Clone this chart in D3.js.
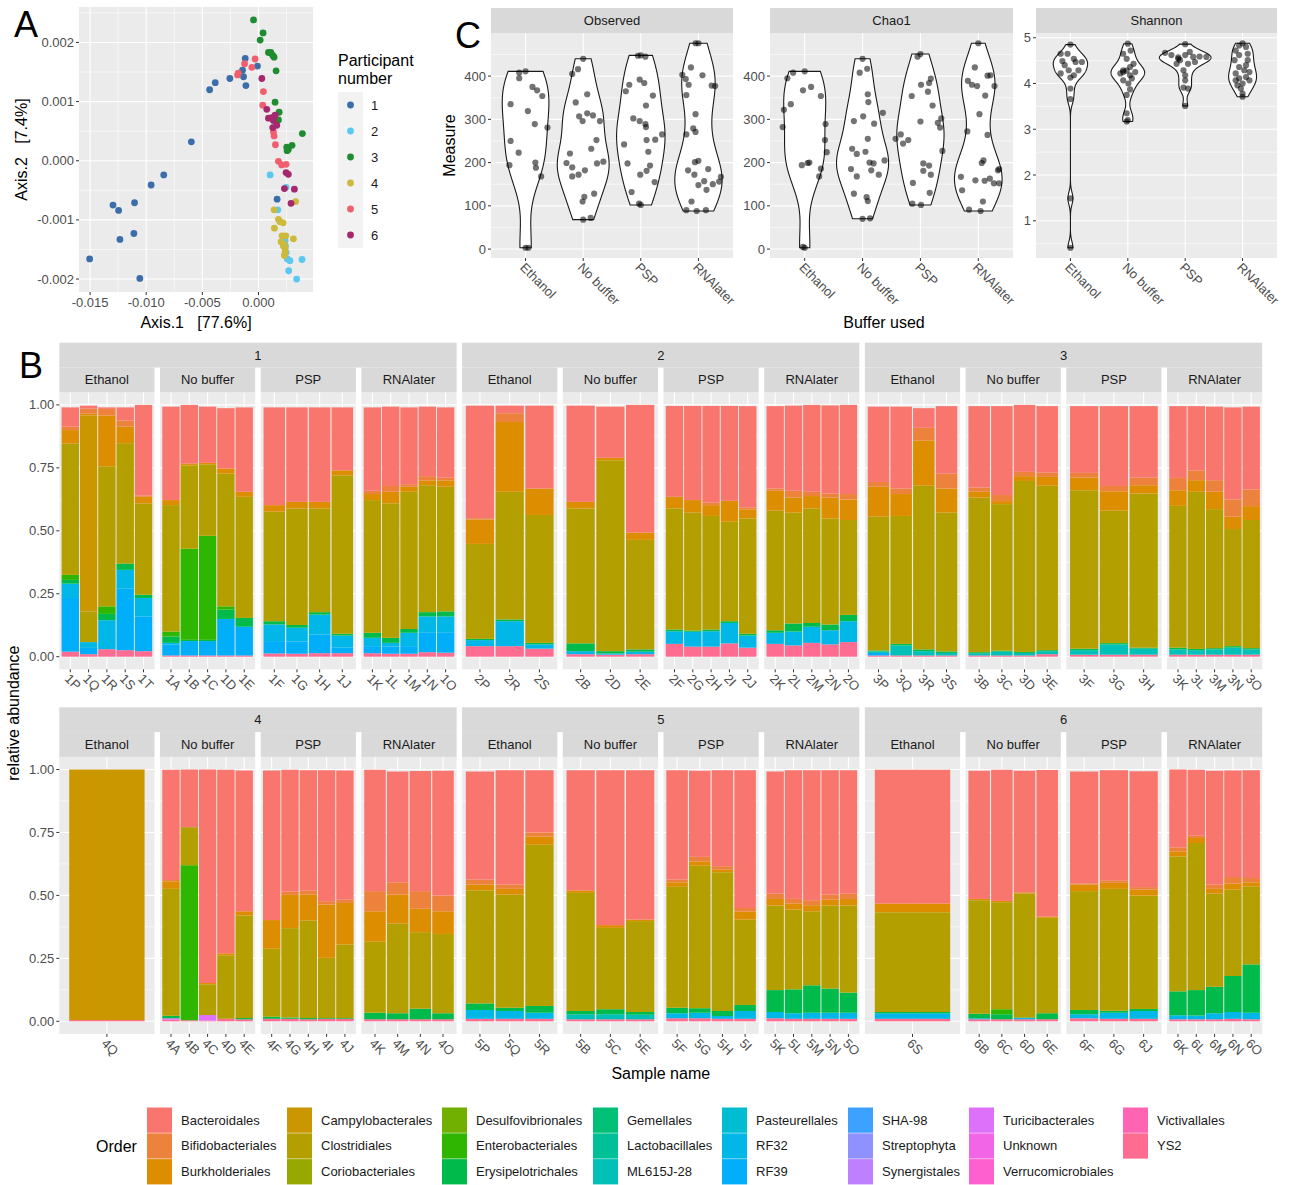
<!DOCTYPE html>
<html>
<head>
<meta charset="utf-8">
<script src="https://cdn.jsdelivr.net/npm/d3@7"></script>
<style>
  body { margin: 0; background: #fff; }
  text { font-family: "Liberation Sans", Arial, Helvetica, sans-serif; }
</style>
</head>
<body>
<div id="chart"></div>
<script>
// ---------- data: panel A (PCoA, [Axis.1, Axis.2]) ----------
const participantColors = ["#3B6EA8", "#5AC8F0", "#1F8C32", "#CDB93C", "#F05F6E", "#A5286E"]
const pcoaP1 = [[-0.01504,-0.00166],[-0.01057,-0.00199],[-0.01234,-0.00133],[-0.0111,-0.00123],[-0.01296,-0.00075],[-0.01246,-0.00084],[-0.01104,-0.00071],[-0.00956,-0.00041],[-0.00844,-0.00024],[-0.00598,0.00032],[-0.00435,0.0012],[-0.00385,0.00132],[-0.00255,0.00139],[-0.00118,0.00173],[-0.00142,0.00153],[-0.00133,0.00142],[-0.00112,0.00127],[-0.00009,0.0016],[0.00166,-0.00065]]
const pcoaP2 = [[0.00104,-0.00024],[0.00172,-0.00083],[0.00246,-0.00045],[0.0024,-0.00144],[0.00257,-0.00166],[0.0028,-0.00169],[0.00388,-0.00167],[0.00269,-0.00186],[0.0034,-0.002],[0.00237,-0.00135],[0.00246,-0.00155],[0.00225,-0.0013]]
const pcoaP3 = [[-0.00044,0.00238],[0.00041,0.00216],[0.00015,0.00204],[0.00089,0.00183],[0.0011,0.00183],[0.00127,0.00178],[0.00139,0.00175],[0.00157,0.00152],[0.00148,0.00099],[0.00184,0.00082],[0.00178,0.00069],[0.00391,0.00046],[0.00299,0.00026],[0.00252,0.00023],[0.00266,0.00019],[0.00255,0.00017]]
const pcoaP4 = [[0.00331,-0.00069],[0.00311,-0.00132],[0.00139,-0.00083],[0.00178,-0.00099],[0.00192,-0.00103],[0.00219,-0.00105],[0.00142,-0.00114],[0.0021,-0.00127],[0.00243,-0.00127],[0.00201,-0.00137],[0.00228,-0.00141],[0.00237,-0.00148],[0.00237,-0.00155],[0.00231,-0.0016],[0.00222,-0.00144]]
const pcoaP5 = [[-0.00124,0.00164],[-0.0003,0.00172],[-0.00059,0.00158],[-0.0018,0.00148],[-0.00186,0.00145],[0.00044,0.00117],[0.00038,0.00094],[0.00133,0.00049],[0.00139,0.00042],[0.00151,0.00027],[0.00178,-0.00001],[0.00207,-0.00007],[0.00246,-0.00006]]
const pcoaP6 = [[0.0003,0.00139],[0.00074,0.00087],[0.00089,0.00072],[0.00118,0.00073],[0.00148,0.00077],[0.00133,0.00068],[0.00163,0.0006],[0.00127,0.00056],[0.00246,-0.0002],[0.00266,-0.00023],[0.00231,-0.00047],[0.0032,-0.00048],[0.0029,-0.00072]]

// ---------- data: panel C (alpha diversity, per buffer: [value, jitter]) ----------
const buffers = ["Ethanol", "No buffer", "PSP", "RNAlater"]
const observedValues = [
  [[411,0],[408,-0.11],[395,-0.11],[335,-0.26],[375,0.12],[367,0.2],[354,0.29],[319,0.04],[289,0.16],[281,0.38],[250,-0.26],[223,-0.12],[194,-0.28],[200,0.17],[188,0.18],[168,0.27],[3,0],[3,0.05]],
  [[440,0],[416,-0.09],[405,-0.19],[339,-0.13],[358,0.07],[307,-0.07],[296,-0.01],[314,0.07],[309,0.17],[296,0.29],[252,0.23],[232,0.14],[221,-0.23],[199,-0.29],[189,-0.19],[172,-0.08],[168,-0.19],[182,0.03],[198,0.24],[202,0.35],[128,0.19],[121,0.02],[110,-0.01],[68,0],[72,0.13]],
  [[447,-0.05],[445,0.08],[448,0],[392,-0.02],[380,-0.2],[384,0.06],[365,-0.26],[355,0.21],[332,0.09],[302,-0.13],[296,-0.02],[289,0.08],[282,0.09],[252,0.1],[253,0.25],[265,0.37],[225,0.13],[242,-0.29],[198,-0.23],[193,0.16],[181,0.1],[172,-0.01],[155,0.24],[132,-0.16],[105,-0.03],[102,0]],
  [[476,-0.05],[476,0],[420,-0.13],[403,-0.28],[393,-0.22],[380,-0.17],[356,-0.21],[312,-0.05],[402,0.07],[378,0.23],[377,0.29],[279,-0.09],[271,-0.05],[265,-0.21],[182,-0.18],[201,-0.06],[204,0],[172,-0.07],[185,0.17],[148,0],[157,0.1],[137,0.14],[150,0.25],[156,0.36],[167,0.39],[110,-0.12],[90,-0.21],[88,-0.03],[90,0.13]]
]
const chao1Values = [
  [[411,0],[408,-0.2],[395,-0.3],[335,-0.24],[322,-0.36],[282,-0.38],[367,-0.03],[375,0.11],[354,0.28],[289,0.36],[252,0.35],[224,0.38],[194,-0.05],[200,0.08],[199,0.05],[186,0.28],[168,0.25],[3,0],[5,-0.03]],
  [[440,0],[417,0.08],[408,-0.05],[358,0.09],[340,0.1],[315,0.35],[307,0.01],[296,-0.15],[290,0.2],[255,0.09],[232,-0.18],[225,0.05],[220,-0.1],[205,0.38],[198,0.19],[200,0.12],[185,-0.2],[182,0.15],[172,0.28],[168,-0.1],[128,-0.15],[120,0.07],[111,0.09],[71,0.13],[70,0]],
  [[451,0],[445,-0.05],[354,-0.15],[380,0.01],[364,0.13],[394,0.18],[384,0.15],[332,0.21],[295,0],[292,0.3],[302,0.36],[281,0.34],[265,-0.34],[255,-0.43],[244,-0.3],[252,-0.21],[227,0.38],[198,0.05],[193,0.15],[181,0.05],[172,0.18],[153,-0.13],[130,0.16],[105,-0.14],[102,0.01]],
  [[476,0],[420,-0.06],[389,-0.18],[380,-0.11],[377,-0.02],[401,0.16],[402,0.21],[377,0.28],[355,0.12],[312,0.02],[272,-0.19],[264,0.16],[205,0.09],[199,0.06],[167,-0.3],[159,-0.05],[158,0.11],[163,0.2],[152,0.27],[152,0.36],[182,0.34],[185,0.36],[136,-0.28],[110,0.08],[91,-0.16],[88,0.04]]
]
const shannonValues = [
  [[4.85,0],[4.65,-0.05],[4.65,-0.17],[4.54,0.06],[4.47,0.09],[4.47,0.2],[4.49,-0.14],[4.4,-0.1],[4.29,-0.03],[4.29,0.14],[4.18,0.06],[4.22,-0.17],[4.13,0],[3.89,0],[3.66,0],[1.49,0],[0.41,0]],
  [[4.87,0],[4.65,-0.08],[4.72,0.05],[4.54,-0.02],[4.43,0.1],[4.36,0.04],[4.29,-0.08],[4.28,-0.02],[4.25,0.13],[4.22,-0.13],[4.18,0.04],[4.07,-0.08],[4.0,0.01],[3.87,0.04],[3.75,-0.02],[3.35,-0.02],[3.17,-0.02],[3.2,0],[4.25,-0.08],[4.11,0.07]],
  [[4.86,0],[4.67,-0.35],[4.62,-0.24],[4.57,-0.12],[4.62,0],[4.69,0.08],[4.58,0.14],[4.59,0.25],[4.58,0.37],[4.51,-0.09],[4.43,0.05],[4.29,-0.03],[4.18,0],[4.07,0],[3.91,-0.03],[3.89,0.05],[3.51,0],[4.54,-0.12],[4.47,0.17],[4.43,-0.15]],
  [[4.88,0],[4.83,-0.06],[4.8,0.06],[4.72,-0.12],[4.65,0.09],[4.62,-0.06],[4.51,-0.14],[4.4,0.06],[4.36,-0.06],[4.29,0.03],[4.25,0.12],[4.22,-0.12],[4.14,0.06],[4.11,-0.06],[4.07,0.12],[4.0,0],[3.96,-0.09],[3.89,-0.03],[3.78,0],[3.71,0],[4.51,0.09],[4.07,-0.12]]
]

// ---------- data: panel B (relative abundance per sample) ----------
const legendOrders = ["Bacteroidales","Bifidobacteriales","Burkholderiales","Campylobacterales","Clostridiales","Coriobacteriales","Desulfovibrionales","Enterobacteriales","Erysipelotrichales","Gemellales","Lactobacillales","ML615J-28","Pasteurellales","RF32","RF39","SHA-98","Streptophyta","Synergistales","Turicibacterales","Unknown","Verrucomicrobiales","Victivallales","YS2"]
// columns after sample name and buffer, stacked bottom -> top
const stackOrders = ["YS2","Turicibacterales","RF39","RF32","ML615J-28","Erysipelotrichales","Enterobacteriales","Clostridiales","Campylobacterales","Burkholderiales","Bifidobacteriales","Bacteroidales"]
const participant1 = [
  ["1P","Ethanol",.020,0,.213,.057,0,.015,.020,.521,0,.054,.014,.076],
  ["1Q","Ethanol",.010,0,.025,.023,0,0,0,.122,.778,.007,.020,.012],
  ["1R","Ethanol",.030,0,0,.115,0,.025,.030,.556,0,.202,.026,.006],
  ["1S","Ethanol",.026,0,.244,.075,0,.025,0,.478,0,.066,.024,.052],
  ["1T","Ethanol",.022,0,.138,.073,0,.013,0,.363,0,.026,.005,.360],
  ["1A","No buffer",.005,0,.044,.006,0,.025,.020,.502,0,.020,0,.371],
  ["1B","No buffer",.005,0,.057,0,0,.005,.362,.331,0,.005,.003,.232],
  ["1C","No buffer",.005,0,.057,0,0,.005,.413,.284,0,.006,0,.223],
  ["1D","No buffer",.005,0,.145,0,0,.037,.013,.527,0,.020,0,.240],
  ["1E","No buffer",.005,0,.114,0,0,.035,0,.481,0,.020,0,.335],
  ["1F","PSP",.013,0,.049,.066,0,.013,0,.435,0,.026,0,.388],
  ["1G","PSP",.012,0,.048,.055,0,.011,0,.463,0,.026,0,.375],
  ["1H","PSP",.014,0,.074,.079,0,.010,0,.412,0,.026,0,.375],
  ["1J","PSP",.014,0,.022,.048,0,.007,0,.629,0,.020,0,.250],
  ["1K","RNAlater",.014,0,.028,.033,0,.020,0,.527,0,.024,.013,.331],
  ["1L","RNAlater",.012,0,.028,.015,0,.020,0,.534,0,.046,.023,.315],
  ["1M","RNAlater",.012,0,.030,.053,0,.015,0,.545,0,.020,.010,.305],
  ["1N","RNAlater",.018,0,.077,.065,0,.017,0,.504,0,.019,.017,.276],
  ["1O","RNAlater",.016,0,.079,.065,0,.020,0,.495,0,.025,.011,.279]
]
const participant2 = [
  ["2P","Ethanol",.042,0,0,.024,0,.005,0,.377,0,.097,.005,.447],
  ["2R","Ethanol",.042,0,0,.099,0,.007,0,.507,0,.277,.035,.030],
  ["2S","Ethanol",.032,0,0,.017,0,.006,0,.508,0,.105,0,.329],
  ["2B","No buffer",.010,0,0,.012,0,.031,0,.536,0,.026,0,.382],
  ["2D","No buffer",.008,0,0,.005,0,.009,0,.758,0,.010,0,.203],
  ["2E","No buffer",.010,0,0,.010,0,.009,0,.435,0,.029,0,.507],
  ["2F","PSP",.051,0,0,.050,0,.007,0,.481,0,.046,0,.361],
  ["2G","PSP",.040,0,0,.059,0,.005,0,.468,0,.050,0,.374],
  ["2H","PSP",.040,0,0,.061,0,.007,0,.451,0,.043,.010,.384],
  ["2I","PSP",.053,0,0,.081,0,.007,0,.395,0,.083,0,.377],
  ["2J","PSP",.036,0,0,.048,0,.007,0,.458,0,.036,.008,.402],
  ["2K","RNAlater",.051,0,0,.044,0,.010,0,.475,0,.079,.009,.327],
  ["2L","RNAlater",.045,0,0,.055,0,.032,0,.440,0,.060,.027,.338],
  ["2M","RNAlater",.055,0,0,.064,0,.015,0,.455,0,.049,.017,.345],
  ["2N","RNAlater",.049,0,0,.056,0,.023,0,.421,0,.083,.016,.350],
  ["2O","RNAlater",.058,0,0,.083,0,.025,0,.377,0,.081,.022,.354]
]
const participant3 = [
  ["3P","Ethanol",.005,0,.010,0,.006,.004,0,.531,0,.119,.019,.299],
  ["3Q","Ethanol",.005,0,0,0,.040,.006,0,.508,0,.087,.022,.325],
  ["3R","Ethanol",.005,0,0,0,.017,.007,0,.650,0,.180,.050,.078],
  ["3S","Ethanol",.005,0,0,0,.010,.006,0,.551,0,.096,.059,.268],
  ["3B","No buffer",.005,0,0,0,.009,.004,0,.614,0,.023,.017,.323],
  ["3C","No buffer",.005,0,0,0,.015,.004,0,.582,0,.012,.024,.353],
  ["3D","No buffer",.005,0,0,0,.010,.004,0,.679,0,.019,.017,.266],
  ["3E","No buffer",.010,0,0,0,.012,.004,0,.653,0,.035,.017,.264],
  ["3F","PSP",.008,0,0,0,.018,.006,0,.629,0,.050,.019,.265],
  ["3G","PSP",.008,0,0,0,.041,.005,0,.526,0,.077,.021,.317],
  ["3H","PSP",.008,0,0,0,.024,.004,0,.612,0,.033,.030,.284],
  ["3K","RNAlater",.008,0,0,0,.021,.007,0,.563,0,.062,.049,.285],
  ["3L","RNAlater",.008,0,0,0,.018,.005,0,.624,0,.046,.039,.255],
  ["3M","RNAlater",.008,0,0,0,.021,.005,0,.552,0,.069,.046,.292],
  ["3N","RNAlater",.008,0,0,0,.028,.006,0,.465,0,.049,.069,.365],
  ["3O","RNAlater",.008,0,0,0,.021,.005,0,.509,0,.055,.066,.329]
]
const participant4 = [
  ["4Q","Ethanol",.005,0,0,0,0,0,0,0,.995,0,0,0],
  ["4A","No buffer",.006,.006,0,0,0,.010,0,.504,0,.030,.005,.438],
  ["4B","No buffer",.004,0,0,0,0,0,.616,.151,0,0,0,.229],
  ["4C","No buffer",.003,.022,0,0,0,0,0,.122,0,.005,0,.848],
  ["4D","No buffer",.010,0,0,0,0,0,0,.252,0,.008,0,.729],
  ["4E","No buffer",.008,0,0,0,0,.005,0,.407,0,.017,0,.559],
  ["4F","PSP",.010,0,0,0,0,.008,0,.270,0,.114,0,.594],
  ["4G","PSP",.010,0,0,0,0,.005,0,.355,0,.132,.013,.484],
  ["4H","PSP",.008,0,0,0,0,.005,0,.387,0,.103,.017,.477],
  ["4I","PSP",.010,0,0,0,0,.003,0,.239,0,.212,.013,.520],
  ["4J","PSP",.010,0,0,0,0,.003,0,.292,0,.165,.013,.513],
  ["4K","RNAlater",.008,0,0,0,0,.026,0,.282,0,.121,.080,.482],
  ["4M","RNAlater",.008,0,0,0,0,.024,0,.356,0,.115,.049,.440],
  ["4N","RNAlater",.008,0,0,0,0,.042,0,.304,0,.093,.070,.477],
  ["4O","RNAlater",.008,0,0,0,0,.024,0,.315,0,.090,.062,.496]
]
const participant5 = [
  ["5P","Ethanol",.010,0,0,.035,0,.026,0,.449,0,.023,.020,.429],
  ["5Q","Ethanol",.010,0,0,.031,0,.013,0,.449,0,.023,.017,.454],
  ["5R","Ethanol",.010,0,0,.024,0,.027,0,.640,0,.033,.016,.247],
  ["5B","No buffer",.008,0,0,0,.020,.013,0,.469,0,.010,0,.477],
  ["5C","No buffer",.008,0,0,0,.020,.020,0,.323,0,.011,0,.615],
  ["5E","No buffer",.008,0,0,0,.018,.011,0,.361,0,.006,0,.593],
  ["5F","PSP",.012,0,0,.020,0,.022,0,.480,0,.018,.011,.434],
  ["5G","PSP",.012,0,0,.022,0,.018,0,.566,0,.017,.018,.342],
  ["5H","PSP",.010,0,0,.011,0,.020,0,.551,0,.010,.014,.381],
  ["5I","PSP",.010,0,0,.031,0,.024,0,.339,0,.032,.014,.547],
  ["5K","RNAlater",.012,0,0,.025,0,.087,0,.336,0,.026,.021,.485],
  ["5L","RNAlater",.010,0,0,.022,0,.095,0,.317,0,.024,.018,.511],
  ["5M","RNAlater",.010,0,0,.024,0,.109,0,.294,0,.024,.020,.516],
  ["5N","RNAlater",.010,0,0,.024,0,.096,0,.330,0,.023,.020,.494],
  ["5O","RNAlater",.010,0,0,.024,0,.080,0,.346,0,.026,.021,.490]
]
const participant6 = [
  ["6S","Ethanol",.010,0,0,.022,0,.005,0,.396,0,.035,0,.531],
  ["6B","No buffer",.008,0,0,.004,0,.018,0,.451,0,.005,0,.509],
  ["6C","No buffer",.008,0,0,0,0,.020,.020,.425,0,.005,0,.521],
  ["6D","No buffer",.008,0,0,.005,0,.002,0,.492,0,.005,0,.483],
  ["6E","No buffer",.008,0,0,0,0,.024,0,.379,0,.005,0,.582],
  ["6F","PSP",.012,0,0,.016,0,.017,0,.472,0,.026,.005,.444],
  ["6G","PSP",.010,0,0,.024,0,.008,0,.484,0,.024,.010,.437],
  ["6J","PSP",.010,0,0,.031,0,.008,0,.450,0,.024,.010,.460],
  ["6K","RNAlater",.008,0,0,.016,0,.095,0,.536,0,.020,.016,.309],
  ["6L","RNAlater",.008,0,0,.015,0,.101,0,.584,0,.020,.009,.262],
  ["6M","RNAlater",.008,0,0,.024,0,.105,0,.370,0,.019,.017,.452],
  ["6N","RNAlater",.010,0,0,.027,0,.143,0,.343,0,.024,.026,.423],
  ["6O","RNAlater",.008,0,0,.026,0,.192,0,.310,0,.016,.017,.428]
]

// ---------- theme ----------
const W = 1291, H = 1185
const PANEL_BG = "#EBEBEB", STRIP_BG = "#D9D9D9", AXIS_TXT = "#4D4D4D", TICK = "#333333"
const fixMinus = s => s.replace("\u2212", "-")
const expand = ([a, b], f = 0.05) => [a - (b - a) * f, b + (b - a) * f]

// ggplot hue palette (polar LUV -> sRGB)
function hueColor(h, c = 100, l = 65) {
  const WY = 100, Wu = 0.1978398, Wv = 0.4683363
  const hr = h * Math.PI / 180
  const U = c * Math.cos(hr), V = c * Math.sin(hr)
  const Y = WY * (l > 7.999592 ? Math.pow((l + 16) / 116, 3) : l / 903.3)
  const u = U / (13 * l) + Wu, v = V / (13 * l) + Wv
  const X = 9 * Y * u / (4 * v)
  const Z = -X / 3 - 5 * Y + 3 * Y / v
  const g = t => t > 0.00304 ? 1.055 * Math.pow(t, 1 / 2.4) - 0.055 : 12.92 * t
  const to255 = t => Math.round(255 * Math.max(0, Math.min(1, g(t))))
  const r = to255((3.240479 * X - 1.53715 * Y - 0.498535 * Z) / WY)
  const gg = to255((-0.969256 * X + 1.875992 * Y + 0.041556 * Z) / WY)
  const b = to255((0.055648 * X - 0.204043 * Y + 1.057311 * Z) / WY)
  return d3.rgb(r, gg, b).formatHex()
}
const orderColor = d3.scaleOrdinal()
  .domain(legendOrders)
  .range(legendOrders.map((d, i) => hueColor(15 + 360 * i / legendOrders.length)))

const svg = d3.select("#chart").append("svg")
  .attr("width", W).attr("height", H)
  .attr("viewBox", [0, 0, W, H])
svg.append("rect").attr("width", W).attr("height", H).attr("fill", "#fff")

function hLines(g, ys, x0, x1, w) {
  g.selectAll(null).data(ys).join("line")
    .attr("x1", x0).attr("x2", x1)
    .attr("y1", d => d).attr("y2", d => d)
    .attr("stroke", "#fff").attr("stroke-width", w)
}
function vLines(g, xs, y0, y1, w) {
  g.selectAll(null).data(xs).join("line")
    .attr("y1", y0).attr("y2", y1)
    .attr("x1", d => d).attr("x2", d => d)
    .attr("stroke", "#fff").attr("stroke-width", w)
}
function yAxisLeft(g, scale, ticks, x, fmt) {
  g.selectAll(null).data(ticks).join("line")
    .attr("x1", x - 3).attr("x2", x)
    .attr("y1", d => scale(d)).attr("y2", d => scale(d))
    .attr("stroke", TICK).attr("stroke-width", 1)
  g.selectAll(null).data(ticks).join("text")
    .attr("x", x - 5).attr("y", d => scale(d)).attr("dy", "0.35em")
    .attr("text-anchor", "end").attr("font-size", 13).attr("fill", AXIS_TXT)
    .text(d => fmt(d))
}
function rotatedXLabels(g, items, y) {
  // items: [{x, label}]
  g.selectAll(null).data(items).join("line")
    .attr("x1", d => d.x).attr("x2", d => d.x)
    .attr("y1", y).attr("y2", y + 3)
    .attr("stroke", TICK).attr("stroke-width", 1)
  g.selectAll(null).data(items).join("text")
    .attr("transform", d => `translate(${d.x - 3},${y + 7}) rotate(45)`)
    .attr("dy", "0.35em")
    .attr("text-anchor", "start").attr("font-size", 13).attr("fill", AXIS_TXT)
    .text(d => d.label)
}

// =============== Panel A ===============
const pcoaAll = [pcoaP1, pcoaP2, pcoaP3, pcoaP4, pcoaP5, pcoaP6]
  .flatMap((arr, i) => arr.map(d => ({ p: i + 1, x: d[0], y: d[1] })))
const aL = 79, aR = 313, aT = 7, aB = 292
const ax = d3.scaleLinear().domain(expand(d3.extent(pcoaAll, d => d.x))).range([aL, aR])
const ay = d3.scaleLinear().domain(expand(d3.extent(pcoaAll, d => d.y))).range([aB, aT])
const gA = svg.append("g")
gA.append("rect").attr("x", aL).attr("y", aT).attr("width", aR - aL).attr("height", aB - aT).attr("fill", PANEL_BG)
const inX = v => v >= ax.domain()[0] && v <= ax.domain()[1]
const inY = v => v >= ay.domain()[0] && v <= ay.domain()[1]
const axTicks = [-0.015, -0.01, -0.005, 0]
const ayTicks = [-0.002, -0.001, 0, 0.001, 0.002]
vLines(gA, [-0.0175, -0.0125, -0.0075, -0.0025, 0.0025].filter(inX).map(ax), aT, aB, 0.55)
hLines(gA, [-0.0025, -0.0015, -0.0005, 0.0005, 0.0015, 0.0025].filter(inY).map(ay), aL, aR, 0.55)
vLines(gA, axTicks.map(ax), aT, aB, 1.1)
hLines(gA, ayTicks.map(ay), aL, aR, 1.1)
gA.selectAll("circle.pt").data(pcoaAll).join("circle")
  .attr("class", "pt")
  .attr("cx", d => ax(d.x)).attr("cy", d => ay(d.y)).attr("r", 3.4)
  .attr("fill", d => participantColors[d.p - 1])
yAxisLeft(gA, ay, ayTicks, aL, d => fixMinus(d3.format(".3f")(d)))
gA.selectAll(null).data(axTicks).join("line")
  .attr("x1", d => ax(d)).attr("x2", d => ax(d)).attr("y1", aB).attr("y2", aB + 3)
  .attr("stroke", TICK)
gA.selectAll(null).data(axTicks).join("text")
  .attr("x", d => ax(d)).attr("y", aB + 15).attr("text-anchor", "middle")
  .attr("font-size", 13).attr("fill", AXIS_TXT)
  .text(d => fixMinus(d3.format(".3f")(d)))
gA.append("text").attr("x", (aL + aR) / 2).attr("y", 328).attr("text-anchor", "middle")
  .attr("font-size", 16).style("white-space", "pre").text("Axis.1   [77.6%]")
gA.append("text").attr("transform", `translate(27,${(aT + aB) / 2}) rotate(-90)`)
  .attr("text-anchor", "middle").attr("font-size", 16).style("white-space", "pre")
  .text("Axis.2   [7.4%]")
gA.append("text").attr("x", 14).attr("y", 37).attr("font-size", 36).text("A")

// participant legend
const legA = svg.append("g")
legA.append("text").attr("x", 338).attr("y", 66).attr("font-size", 16).text("Participant")
legA.append("text").attr("x", 338).attr("y", 84).attr("font-size", 16).text("number")
legA.append("rect").attr("x", 338).attr("y", 92).attr("width", 25).attr("height", 156).attr("fill", "#F2F2F2")
legA.selectAll(null).data(participantColors).join("circle")
  .attr("cx", 350.5).attr("cy", (d, i) => 105 + i * 26).attr("r", 3.4).attr("fill", d => d)
legA.selectAll(null).data(participantColors).join("text")
  .attr("x", 371).attr("y", (d, i) => 105 + i * 26).attr("dy", "0.35em")
  .attr("font-size", 13).attr("fill", "#1A1A1A").text((d, i) => i + 1)

// =============== Panel C ===============
function violinDensity(vals) {
  const s = vals.slice().sort(d3.ascending)
  const n = s.length
  const sd = d3.deviation(s)
  const iqr = d3.quantileSorted(s, 0.75) - d3.quantileSorted(s, 0.25)
  let lo = Math.min(sd, iqr / 1.34)
  if (!(lo > 0)) lo = sd || 1
  const bw = 0.9 * lo * Math.pow(n, -0.2)
  return d3.range(512).map(i => {
    const y = s[0] + (s[n - 1] - s[0]) * i / 511
    const dens = d3.mean(s, v => Math.exp(-0.5 * ((y - v) / bw) ** 2)) / (bw * Math.sqrt(2 * Math.PI))
    return [y, dens]
  })
}

const cT = 33, cB = 258, cStripT = 8
const facets = [
  { name: "Observed", groups: observedValues, x0: 491, x1: 733, ticks: [0, 100, 200, 300, 400, 500], minor: [50, 150, 250, 350, 450] },
  { name: "Chao1", groups: chao1Values, x0: 770, x1: 1013, ticks: [0, 100, 200, 300, 400, 500], minor: [50, 150, 250, 350, 450] },
  { name: "Shannon", groups: shannonValues, x0: 1036, x1: 1277, ticks: [1, 2, 3, 4, 5], minor: [0.5, 1.5, 2.5, 3.5, 4.5] }
]
const gC = svg.append("g")
facets.forEach(f => {
  const all = f.groups.flat()
  const y = d3.scaleLinear().domain(expand(d3.extent(all, d => d[0]))).range([cB, cT])
  const inDom = v => v >= y.domain()[0] && v <= y.domain()[1]
  const unit = (f.x1 - f.x0) / (buffers.length - 1 + 1.2)
  const cx = i => f.x0 + (0.6 + i) * unit
  const g = gC.append("g")
  g.append("rect").attr("x", f.x0).attr("y", cStripT).attr("width", f.x1 - f.x0).attr("height", cT - cStripT).attr("fill", STRIP_BG)
  g.append("text").attr("x", (f.x0 + f.x1) / 2).attr("y", (cStripT + cT) / 2).attr("dy", "0.35em")
    .attr("text-anchor", "middle").attr("font-size", 13).attr("fill", "#1A1A1A").text(f.name)
  g.append("rect").attr("x", f.x0).attr("y", cT).attr("width", f.x1 - f.x0).attr("height", cB - cT).attr("fill", PANEL_BG)
  hLines(g, f.minor.filter(inDom).map(y), f.x0, f.x1, 0.55)
  hLines(g, f.ticks.filter(inDom).map(y), f.x0, f.x1, 1.1)
  vLines(g, buffers.map((b, i) => cx(i)), cT, cB, 1.1)

  const dens = f.groups.map(gr => violinDensity(gr.map(d => d[0])))
  const maxD = d3.max(dens.flat(), d => d[1])
  const line = d3.line()
  dens.forEach((dd, i) => {
    const left = dd.map(([v, d]) => [cx(i) - d / maxD * 0.45 * unit, y(v)])
    const right = dd.slice().reverse().map(([v, d]) => [cx(i) + d / maxD * 0.45 * unit, y(v)])
    g.append("path").attr("d", line(left.concat(right)) + "Z")
      .attr("fill", "#fff").attr("stroke", "#1A1A1A").attr("stroke-width", 1.1)
  })
  f.groups.forEach((gr, i) => {
    g.selectAll(null).data(gr).join("circle")
      .attr("cx", d => cx(i) + d[1] * unit).attr("cy", d => y(d[0])).attr("r", 3.1)
      .attr("fill", "#000").attr("fill-opacity", 0.55)
  })
  yAxisLeft(g, y, f.ticks.filter(inDom), f.x0, d3.format("d"))
  rotatedXLabels(g, buffers.map((b, i) => ({ x: cx(i), label: b })), cB)
})
gC.append("text").attr("transform", `translate(455,${(cT + cB) / 2}) rotate(-90)`)
  .attr("text-anchor", "middle").attr("font-size", 16).text("Measure")
gC.append("text").attr("x", (491 + 1277) / 2).attr("y", 328).attr("text-anchor", "middle")
  .attr("font-size", 16).text("Buffer used")
gC.append("text").attr("x", 455).attr("y", 48).attr("font-size", 36).text("C")

// =============== Panel B ===============
const participants = [participant1, participant2, participant3, participant4, participant5, participant6]
const bLeft = 59.3, bPanelW = 95.2, bStride = 100.7, bStripH = 24.8, bPanelH = 277
const bRowTop = [342.7, 707.3]
const maxTotal = d3.max(participants.flat(), r => d3.sum(r.slice(2)))
const by = d3.scaleLinear().domain(expand([0, maxTotal])).range([bPanelH, 0])
const bTicks = [0, 0.25, 0.5, 0.75, 1]
const gB = svg.append("g")

participants.forEach((rows, pi) => {
  const row = pi < 3 ? 0 : 1
  const col = pi % 3
  const top = bRowTop[row]
  const blockX = bLeft + col * 4 * bStride
  gB.append("rect").attr("x", blockX).attr("y", top)
    .attr("width", 3 * bStride + bPanelW).attr("height", bStripH).attr("fill", STRIP_BG)
  gB.append("text").attr("x", blockX + (3 * bStride + bPanelW) / 2).attr("y", top + bStripH / 2)
    .attr("dy", "0.35em").attr("text-anchor", "middle").attr("font-size", 13).attr("fill", "#1A1A1A")
    .text(pi + 1)

  buffers.forEach((b, bi) => {
    const px = blockX + bi * bStride
    const py = top + 2 * bStripH
    const samples = rows.filter(r => r[1] === b)
    const g = gB.append("g").attr("transform", `translate(${px},${py})`)
    gB.append("rect").attr("x", px).attr("y", top + bStripH).attr("width", bPanelW).attr("height", bStripH).attr("fill", STRIP_BG)
    gB.append("text").attr("x", px + bPanelW / 2).attr("y", top + 1.5 * bStripH).attr("dy", "0.35em")
      .attr("text-anchor", "middle").attr("font-size", 13).attr("fill", "#1A1A1A").text(b)
    g.append("rect").attr("width", bPanelW).attr("height", bPanelH).attr("fill", PANEL_BG)
    const unit = bPanelW / (samples.length - 1 + 1.2)
    const cx = i => (0.6 + i) * unit
    hLines(g, [0.125, 0.375, 0.625, 0.875].map(by), 0, bPanelW, 0.55)
    hLines(g, bTicks.map(by), 0, bPanelW, 1.1)
    vLines(g, samples.map((s, i) => cx(i)), 0, bPanelH, 1.1)
    samples.forEach((s, i) => {
      let cum = 0
      const segs = stackOrders.map((o, j) => {
        const v = s[2 + j]
        const seg = { order: o, y0: cum, y1: cum + v }
        cum += v
        return seg
      }).filter(d => d.y1 > d.y0)
      g.selectAll(null).data(segs).join("rect")
        .attr("x", cx(i) - 0.475 * unit).attr("width", 0.95 * unit)
        .attr("y", d => by(d.y1)).attr("height", d => by(d.y0) - by(d.y1))
        .attr("fill", d => orderColor(d.order))
    })
    rotatedXLabels(gB, samples.map((s, i) => ({ x: px + cx(i), label: s[0] })), py + bPanelH)
  })
  if (col === 0) {
    const ys = d3.scaleLinear().domain(by.domain()).range([top + 2 * bStripH + bPanelH, top + 2 * bStripH])
    yAxisLeft(gB, ys, bTicks, bLeft, d3.format(".2f"))
  }
})
gB.append("text").attr("transform", `translate(19,${(bRowTop[0] + 2 * bStripH + bRowTop[1] + 2 * bStripH + bPanelH) / 2}) rotate(-90)`)
  .attr("text-anchor", "middle").attr("font-size", 16).text("relative abundance")
gB.append("text").attr("x", bLeft + (11 * bStride + bPanelW) / 2).attr("y", 1079)
  .attr("text-anchor", "middle").attr("font-size", 16).text("Sample name")
gB.append("text").attr("x", 19).attr("y", 378).attr("font-size", 36).text("B")

// Order legend
const legendColX = [147, 287, 442, 593, 722, 848, 969, 1123]
const legB = svg.append("g")
legB.append("text").attr("x", 96).attr("y", 1146).attr("dy", "0.35em").attr("font-size", 16).text("Order")
legB.selectAll(null).data(legendOrders).join("rect")
  .attr("x", (d, i) => legendColX[Math.floor(i / 3)])
  .attr("y", (d, i) => 1107.5 + (i % 3) * 25.8)
  .attr("width", 25).attr("height", 25.3)
  .attr("fill", d => orderColor(d))
legB.selectAll(null).data(legendOrders).join("text")
  .attr("x", (d, i) => legendColX[Math.floor(i / 3)] + 34)
  .attr("y", (d, i) => 1107.5 + (i % 3) * 25.8 + 12.6).attr("dy", "0.35em")
  .attr("font-size", 13).attr("fill", "#1A1A1A")
  .text(d => d)
</script>
</body>
</html>
